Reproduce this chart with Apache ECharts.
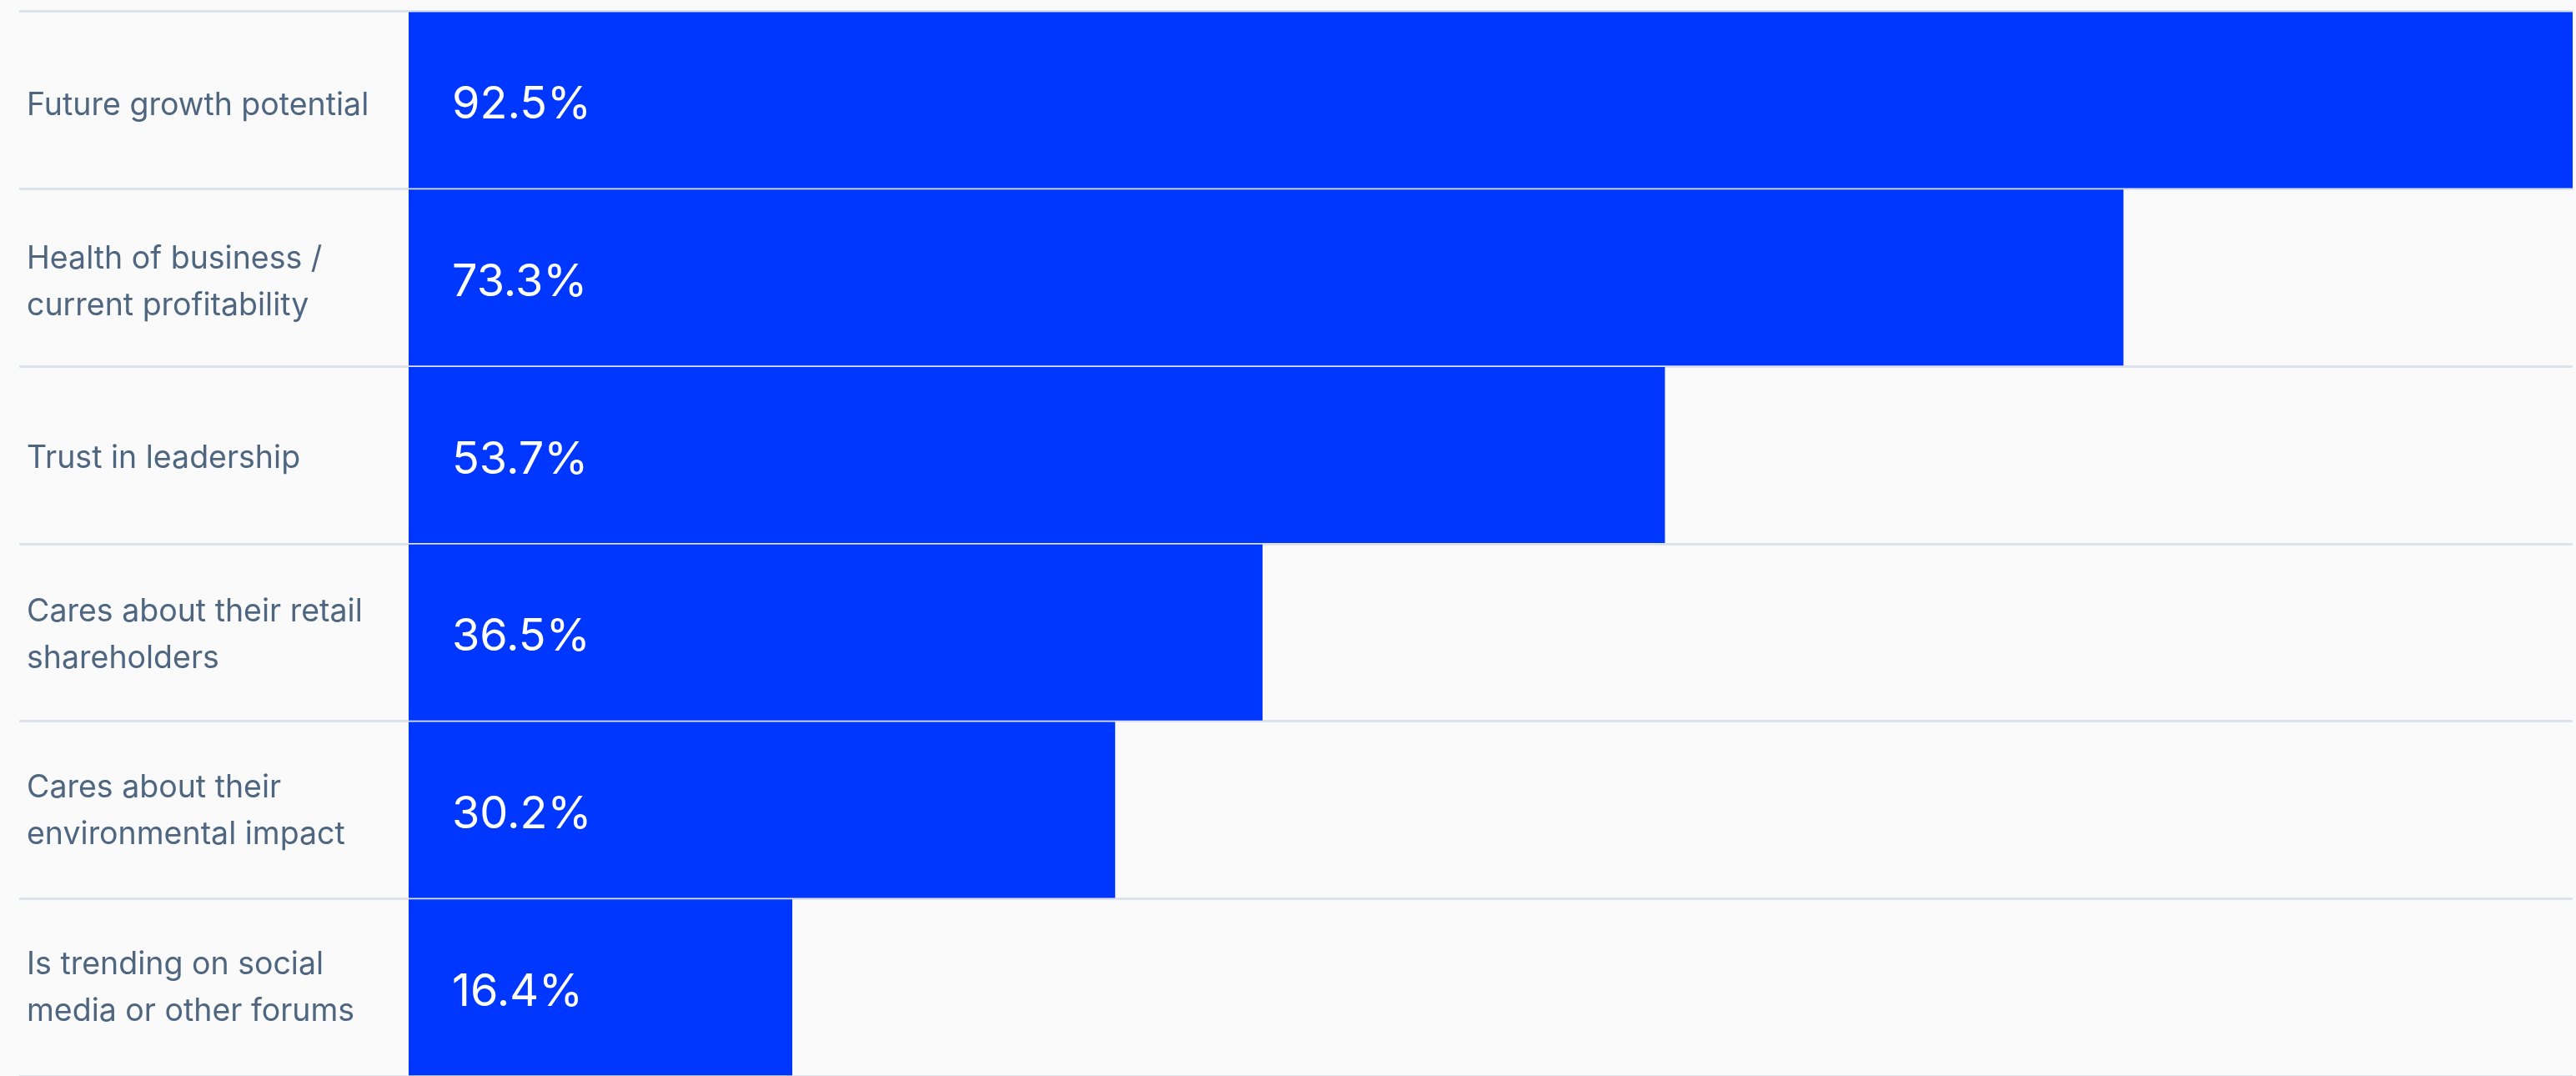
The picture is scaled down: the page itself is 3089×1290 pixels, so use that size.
<!DOCTYPE html>
<html>
<head>
<meta charset="utf-8">
<title>What matters most</title>
<script src="https://cdn.jsdelivr.net/npm/echarts@6/dist/echarts.min.js"></script>
<style>
  html, body { margin: 0; padding: 0; background: #fafafa; overflow: hidden; }
  #chart { width: 3089px; height: 1290px; }
</style>
</head>
<body>
<div id="chart"></div>
<script>
// Reasons, top to bottom
const categories = [
  'Future growth potential',
  'Health of business /\ncurrent profitability',
  'Trust in leadership',
  'Cares about their retail\nshareholders',
  'Cares about their\nenvironmental impact',
  'Is trending on social\nmedia or other forums'
];

// Share of respondents (%)
const shares = [92.5, 73.3, 53.7, 36.5, 30.2, 16.4];

const FONT = 'Inter, "Noto Sans", sans-serif';
const TOP = 13.5;
const BOTTOM = -4;
const LABEL_DROP = 8;

const chart = echarts.init(document.getElementById('chart'), null, { renderer: 'canvas' });

chart.setOption({
  backgroundColor: '#fafafa',
  animation: false,
  grid: [
    // full-width row separators
    { left: 23, right: 4, top: TOP, bottom: BOTTOM },
    // bar area
    { left: 490, right: 4, top: TOP, bottom: BOTTOM },
    // category names
    { left: 23, right: 4, top: TOP + LABEL_DROP, bottom: BOTTOM - LABEL_DROP }
  ],
  xAxis: [
    { gridIndex: 0, type: 'value', min: 0, max: 1, show: false },
    { gridIndex: 1, type: 'value', min: 0, max: 'dataMax', show: false },
    { gridIndex: 2, type: 'value', min: 0, max: 1, show: false }
  ],
  yAxis: [
    {
      gridIndex: 0,
      type: 'category',
      inverse: true,
      data: categories,
      axisLine: { show: false },
      axisTick: { show: false },
      axisLabel: { show: false },
      splitLine: { show: true, lineStyle: { color: '#dde2ec', width: 3 } },
      z: 1
    },
    {
      gridIndex: 1,
      type: 'category',
      inverse: true,
      data: categories,
      show: false
    },
    {
      gridIndex: 2,
      type: 'category',
      inverse: true,
      data: categories,
      axisLine: { show: false },
      axisTick: { show: false },
      splitLine: { show: false },
      axisLabel: {
        inside: true,
        margin: 9,
        color: '#4f6680',
        fontFamily: FONT,
        fontSize: 37.5,
        lineHeight: 56,
        align: 'left'
      },
      z: 3
    }
  ],
  series: [
    {
      type: 'bar',
      xAxisIndex: 1,
      yAxisIndex: 1,
      data: shares,
      barWidth: 211,
      itemStyle: { color: '#0037ff' },
      label: {
        show: true,
        position: 'insideLeft',
        distance: 52,
        offset: [0, 6],
        color: '#ffffff',
        fontFamily: FONT,
        fontSize: 54,
        formatter: p => p.value.toFixed(1) + '%'
      },
      z: 2
    }
  ]
});
</script>
</body>
</html>
